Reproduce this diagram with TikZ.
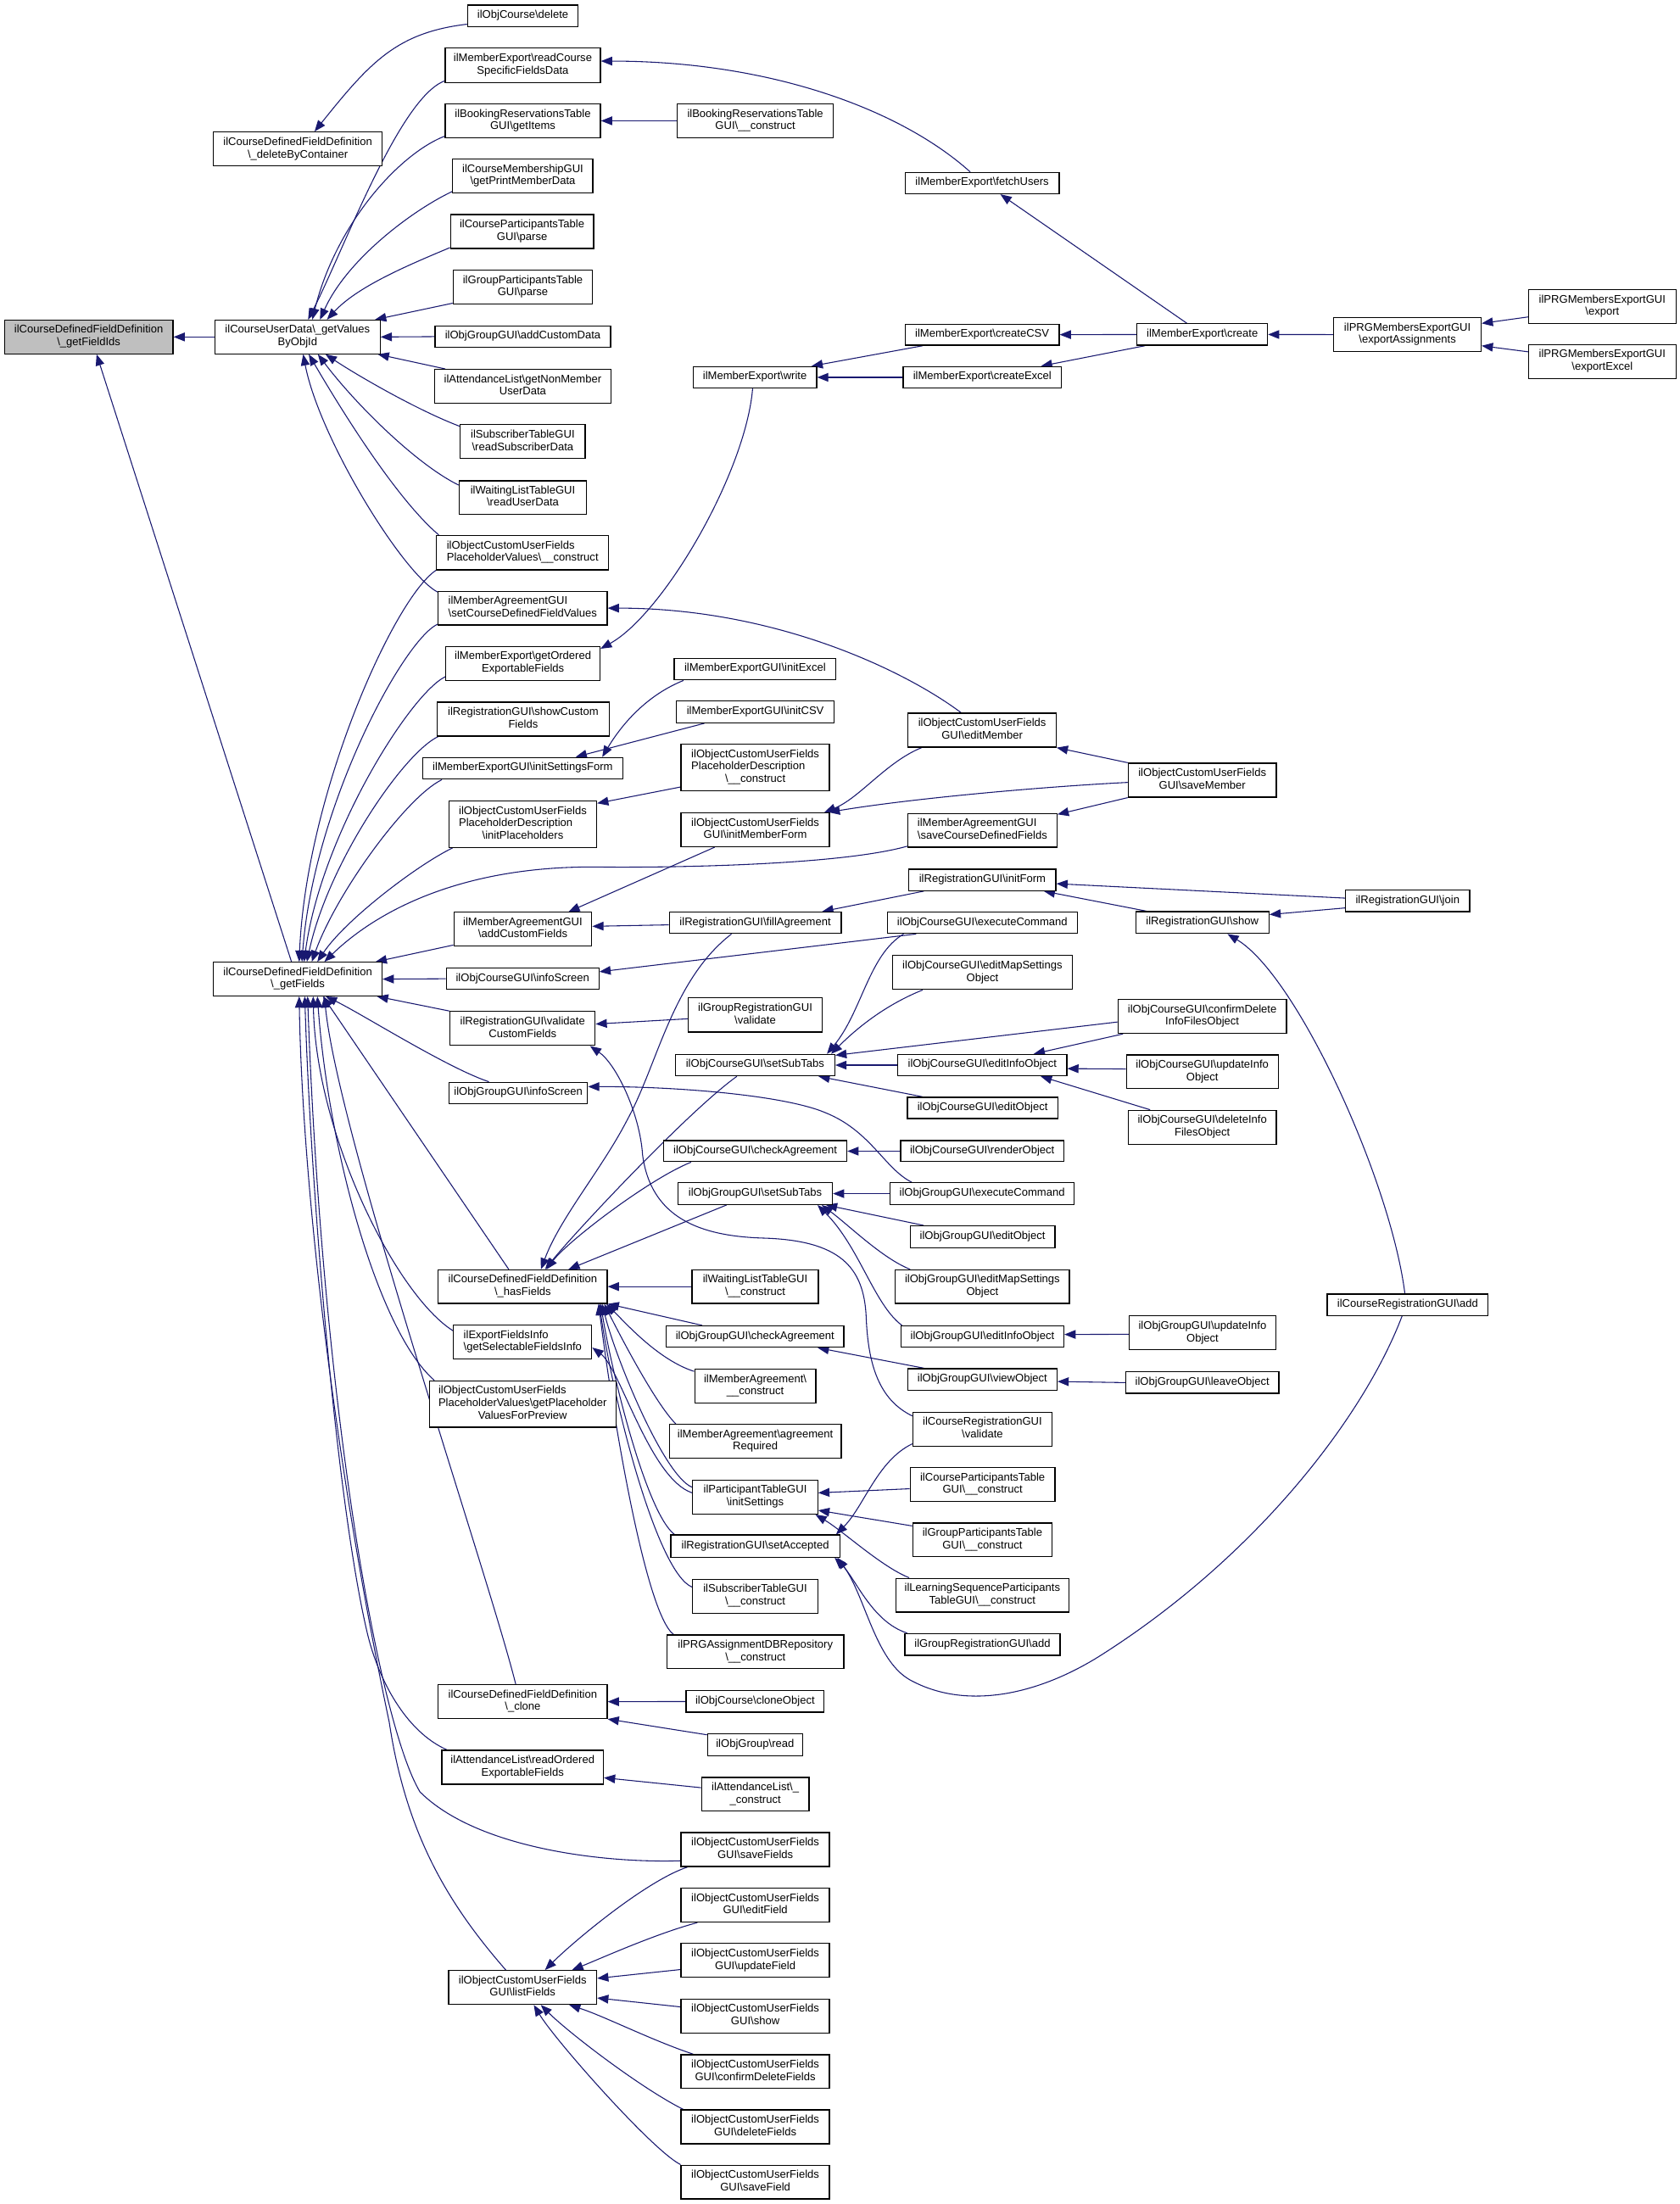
\documentclass[tikz,border=0pt]{standalone}
\usepackage{fontspec}
\setmainfont{Liberation Sans}
\usetikzlibrary{arrows.meta,backgrounds}
\definecolor{grey75}{RGB}{191,191,191}
\definecolor{mblue}{RGB}{25,25,112}
\newcommand{\bsl}{\textbackslash{}}
\newcommand{\cx}[1]{\begin{tabular}{@{}c@{}}#1\end{tabular}}
\newcommand{\lx}[1]{\begin{tabular}{@{}l@{}}#1\end{tabular}}
\newcommand{\mc}[1]{\multicolumn{1}{@{}c@{}}{#1}}
\newcommand{\nd}[6]{\node[nbox,minimum width={(#4)-(#2)},minimum height={(#5)-(#3)}] (#1) at ({((#2)+(#4))/2},{((#3)+(#5))/2}) {#6};}
\begin{document}
\begin{tikzpicture}[x=1pt,y=-1pt,
  nbox/.style={draw=black,line width=0.75pt,fill=white,inner sep=0pt,font=\fontsize{7.9}{8.9}\selectfont,align=center},
  cedge/.style={draw=mblue,line width=0.65pt,-{Triangle[length=8pt,width=6.2pt]}}]
\useasboundingbox (0,0) rectangle (1200,1574.4);
% column 0/1
\node[nbox,fill=grey75,minimum width=120.4,minimum height=24] (fid) at (63.4,240.7) {\cx{ilCourseDefinedFieldDefinition\\\bsl\_getFieldIds}};
\nd{dbc}{152.5}{94.3}{272.9}{118.6}{\cx{ilCourseDefinedFieldDefinition\\\bsl\_deleteByContainer}}
\nd{gvo}{153.6}{228.7}{271.5}{252.7}{\cx{ilCourseUserData\bsl\_getValues\\ByObjId}}
\nd{gfl}{152.5}{687.4}{272.9}{711.4}{\cx{ilCourseDefinedFieldDefinition\\\bsl\_getFields}}
% column 2
\nd{ocd}{334}{3.6}{413}{18.9}{\cx{ilObjCourse\bsl delete}}
\nd{rcs}{318}{34.4}{428.9}{58.9}{\cx{ilMemberExport\bsl readCourse\\SpecificFieldsData}}
\nd{bgi}{318}{74.2}{428.9}{98.4}{\cx{ilBookingReservationsTable\\GUI\bsl getItems}}
\nd{pmd}{323.4}{113.7}{423.5}{137.9}{\cx{ilCourseMembershipGUI\\\bsl getPrintMemberData}}
\nd{cpp}{321.8}{153.2}{424}{177.5}{\cx{ilCourseParticipantsTable\\GUI\bsl parse}}
\nd{gpp}{323.7}{193}{423.2}{217.2}{\cx{ilGroupParticipantsTable\\GUI\bsl parse}}
\nd{gac}{310.7}{232.8}{436.2}{248.1}{\cx{ilObjGroupGUI\bsl addCustomData}}
\nd{anm}{310.4}{263.9}{436.4}{288.1}{\cx{ilAttendanceList\bsl getNonMember\\UserData}}
\nd{rsd}{328.8}{303.4}{418}{327.6}{\cx{ilSubscriberTableGUI\\\bsl readSubscriberData}}
\nd{rud}{328}{343.4}{418.9}{367.4}{\cx{ilWaitingListTableGUI\\\bsl readUserData}}
\nd{pvc}{311.8}{382.5}{434.8}{407}{\lx{ilObjectCustomUserFields\\PlaceholderValues\bsl\_\_construct}}
\nd{scv}{312.9}{422.3}{433.7}{446.5}{\lx{ilMemberAgreementGUI\\\bsl setCourseDefinedFieldValues}}
\nd{goe}{318.5}{461.8}{428.6}{486}{\cx{ilMemberExport\bsl getOrdered\\ExportableFields}}
\nd{scf}{312.3}{501.6}{435.1}{525.8}{\cx{ilRegistrationGUI\bsl showCustom\\Fields}}
\nd{isf}{302}{541.1}{444.8}{556.6}{\cx{ilMemberExportGUI\bsl initSettingsForm}}
\nd{ipl}{320.7}{572.2}{426.2}{605.3}{\lx{ilObjectCustomUserFields\\PlaceholderDescription\\\mc{\bsl initPlaceholders}}}
\nd{acf}{324.2}{651.7}{422.7}{675.7}{\cx{ilMemberAgreementGUI\\\bsl addCustomFields}}
\nd{cis}{318.8}{691.5}{427.8}{706.8}{\cx{ilObjCourseGUI\bsl infoScreen}}
\nd{vcf}{321.5}{722.6}{425.1}{746.8}{\cx{ilRegistrationGUI\bsl validate\\CustomFields}}
\nd{gis}{320.7}{773.1}{419.7}{788.4}{\cx{ilObjGroupGUI\bsl infoScreen}}
\nd{hsf}{313.1}{907.1}{433.7}{931}{\cx{ilCourseDefinedFieldDefinition\\\bsl\_hasFields}}
\nd{sfi}{324}{946.6}{422.7}{970.6}{\lx{ilExportFieldsInfo\\\bsl getSelectableFieldsInfo}}
\nd{pvp}{306.6}{986.4}{440}{1019.5}{\lx{ilObjectCustomUserFields\\PlaceholderValues\bsl getPlaceholder\\\mc{ValuesForPreview}}}
\nd{cln}{313.1}{1203.5}{433.7}{1227.6}{\cx{ilCourseDefinedFieldDefinition\\\bsl\_clone}}
\nd{roe}{315.6}{1250.3}{431}{1274.5}{\cx{ilAttendanceList\bsl readOrdered\\ExportableFields}}
\nd{lsf}{320.4}{1407.6}{426.2}{1431.8}{\cx{ilObjectCustomUserFields\\GUI\bsl listFields}}
% column 3
\nd{brc}{483.8}{74.2}{595.2}{98.4}{\cx{ilBookingReservationsTable\\GUI\bsl\_\_construct}}
\nd{wrt}{495.1}{261.9}{583.3}{277.2}{\cx{ilMemberExport\bsl write}}
\nd{iex}{481.6}{470.2}{597.1}{485.7}{\cx{ilMemberExportGUI\bsl initExcel}}
\nd{icv}{483}{500.8}{596}{516.3}{\cx{ilMemberExportGUI\bsl initCSV}}
\nd{pdc}{486.5}{531.6}{592.5}{564.8}{\lx{ilObjectCustomUserFields\\PlaceholderDescription\\\mc{\bsl\_\_construct}}}
\nd{imf}{486.5}{580.6}{592.5}{604.8}{\cx{ilObjectCustomUserFields\\GUI\bsl initMemberForm}}
\nd{fag}{478.1}{651.5}{600.9}{666.8}{\cx{ilRegistrationGUI\bsl fillAgreement}}
\nd{grv}{491.6}{712.9}{587.3}{737.2}{\cx{ilGroupRegistrationGUI\\\bsl validate}}
\nd{cst}{482.4}{753.2}{596.3}{768.5}{\cx{ilObjCourseGUI\bsl setSubTabs}}
\nd{cca}{474}{814.8}{604.9}{829.8}{\cx{ilObjCourseGUI\bsl checkAgreement}}
\nd{gst}{484.3}{844.9}{594.6}{860.4}{\cx{ilObjGroupGUI\bsl setSubTabs}}
\nd{wlc}{494.3}{907.1}{584.6}{931}{\cx{ilWaitingListTableGUI\\\bsl\_\_construct}}
\nd{gca}{475.9}{947.1}{602.7}{962.4}{\cx{ilObjGroupGUI\bsl checkAgreement}}
\nd{mac}{496.2}{978}{582.7}{1002.2}{\cx{ilMemberAgreement\bsl\\\_\_construct}}
\nd{mar}{478.1}{1017.5}{600.9}{1041.7}{\cx{ilMemberAgreement\bsl agreement\\Required}}
\nd{pis}{494.8}{1057.3}{584.1}{1081.5}{\cx{ilParticipantTableGUI\\\bsl initSettings}}
\nd{sac}{479.2}{1096.5}{599.8}{1112.3}{\cx{ilRegistrationGUI\bsl setAccepted}}
\nd{stc}{494.8}{1128.1}{584.1}{1152.4}{\cx{ilSubscriberTableGUI\\\bsl\_\_construct}}
\nd{prg}{476.5}{1167.9}{602.7}{1192}{\cx{ilPRGAssignmentDBRepository\\\bsl\_\_construct}}
\nd{occ}{490}{1207.8}{588.7}{1223.1}{\cx{ilObjCourse\bsl cloneObject}}
\nd{ogr}{505.4}{1238.3}{573.3}{1254.1}{\cx{ilObjGroup\bsl read}}
\nd{alc}{501.1}{1269.7}{577.9}{1293.8}{\cx{ilAttendanceList\bsl\_\\\_construct}}
\nd{svf}{486.5}{1309.1}{592.5}{1333.3}{\cx{ilObjectCustomUserFields\\GUI\bsl saveFields}}
\nd{edf}{486.5}{1348.8}{592.5}{1373}{\cx{ilObjectCustomUserFields\\GUI\bsl editField}}
\nd{upf}{486.5}{1388.3}{592.5}{1412.5}{\cx{ilObjectCustomUserFields\\GUI\bsl updateField}}
\nd{shw}{486.5}{1428}{592.5}{1452.2}{\cx{ilObjectCustomUserFields\\GUI\bsl show}}
\nd{cdf}{486.5}{1467.7}{592.5}{1491.9}{\cx{ilObjectCustomUserFields\\GUI\bsl confirmDeleteFields}}
\nd{dlf}{486.5}{1507.2}{592.5}{1531.4}{\cx{ilObjectCustomUserFields\\GUI\bsl deleteFields}}
\nd{svd}{486.5}{1546.6}{592.5}{1570.8}{\cx{ilObjectCustomUserFields\\GUI\bsl saveField}}
% column 4
\nd{fus}{646.5}{123.2}{756.6}{138.4}{\cx{ilMemberExport\bsl fetchUsers}}
\nd{csv}{646.5}{231.5}{756.6}{246.6}{\cx{ilMemberExport\bsl createCSV}}
\nd{cxl}{645.2}{261.9}{758.2}{277.2}{\cx{ilMemberExport\bsl createExcel}}
\nd{edm}{648.7}{509.5}{754.4}{533.7}{\cx{ilObjectCustomUserFields\\GUI\bsl editMember}}
\nd{scd}{648.4}{581.1}{755}{605.1}{\lx{ilMemberAgreementGUI\\\bsl saveCourseDefinedFields}}
\nd{ifm}{649.3}{620.9}{754.2}{636.2}{\cx{ilRegistrationGUI\bsl initForm}}
\nd{cec}{633.8}{651.5}{769.6}{666.8}{\cx{ilObjCourseGUI\bsl executeCommand}}
\nd{cem}{637.4}{682.6}{766.1}{706.8}{\cx{ilObjCourseGUI\bsl editMapSettings\\Object}}
\nd{cei}{641.4}{753.2}{762}{768.5}{\cx{ilObjCourseGUI\bsl editInfoObject}}
\nd{ceo}{648.2}{783.8}{755.5}{799}{\cx{ilObjCourseGUI\bsl editObject}}
\nd{cro}{643.3}{814.8}{759.9}{829.8}{\cx{ilObjCourseGUI\bsl renderObject}}
\nd{gec}{635.7}{844.9}{767.4}{860.4}{\cx{ilObjGroupGUI\bsl executeCommand}}
\nd{geo}{650.1}{875.7}{753.6}{891.3}{\cx{ilObjGroupGUI\bsl editObject}}
\nd{gem}{639.5}{907.1}{763.9}{931}{\cx{ilObjGroupGUI\bsl editMapSettings\\Object}}
\nd{gei}{643.6}{947.1}{759.9}{962.4}{\cx{ilObjGroupGUI\bsl editInfoObject}}
\nd{gvw}{648.4}{977.7}{755}{993}{\cx{ilObjGroupGUI\bsl viewObject}}
\nd{crv}{652}{1008.8}{751.5}{1033}{\cx{ilCourseRegistrationGUI\\\bsl validate}}
\nd{cpc}{650.1}{1048.3}{753.6}{1072.6}{\cx{ilCourseParticipantsTable\\GUI\bsl\_\_construct}}
\nd{gpc}{652}{1087.9}{751.5}{1112.1}{\cx{ilGroupParticipantsTable\\GUI\bsl\_\_construct}}
\nd{lsp}{639.8}{1127.4}{763.6}{1151.6}{\cx{ilLearningSequenceParticipants\\TableGUI\bsl\_\_construct}}
\nd{gra}{646.3}{1166.9}{757.2}{1182.4}{\cx{ilGroupRegistrationGUI\bsl add}}
% column 5
\nd{crt}{812.2}{231.3}{905.4}{246.6}{\cx{ilMemberExport\bsl create}}
\nd{svm}{805.9}{545.2}{911.7}{569.4}{\cx{ilObjectCustomUserFields\\GUI\bsl saveMember}}
\nd{rsh}{811.2}{651.2}{906.4}{666.8}{\cx{ilRegistrationGUI\bsl show}}
\nd{cdi}{798.5}{713.9}{919}{738.2}{\cx{ilObjCourseGUI\bsl confirmDelete\\InfoFilesObject}}
\nd{cui}{804.6}{753.5}{913}{777.7}{\cx{ilObjCourseGUI\bsl updateInfo\\Object}}
\nd{cdd}{805.9}{793.1}{911.7}{817.3}{\cx{ilObjCourseGUI\bsl deleteInfo\\FilesObject}}
\nd{gui}{806.7}{940}{911.2}{964.2}{\cx{ilObjGroupGUI\bsl updateInfo\\Object}}
\nd{glo}{804.1}{980}{913.5}{995.3}{\cx{ilObjGroupGUI\bsl leaveObject}}
% column 6/7
\nd{exa}{952.7}{226.9}{1058}{251.1}{\cx{ilPRGMembersExportGUI\\\bsl exportAssignments}}
\nd{rjn}{961.1}{635.9}{1049.8}{651.2}{\cx{ilRegistrationGUI\bsl join}}
\nd{cra}{948}{924.4}{1063}{939.7}{\cx{ilCourseRegistrationGUI\bsl add}}
\nd{exp}{1091.9}{207}{1197.1}{231}{\cx{ilPRGMembersExportGUI\\\bsl export}}
\nd{exx}{1091.9}{246.3}{1197.1}{270.3}{\cx{ilPRGMembersExportGUI\\\bsl exportExcel}}

\begin{pgfonlayer}{background}
\fill[white] (0,0) rectangle (1200,1574.4);
\draw[cedge] ([yshift=2pt]ocd.south west) .. controls +(-50,6) and +(40,-50) .. ([xshift=12pt]dbc.north);
\draw[cedge] (gvo.west) -- (fid.east);
\draw[cedge] ([xshift=-4.5pt]gfl.north) -- ([xshift=5.6pt]fid.south);
\draw[cedge] ([yshift=1.5pt]rcs.south west) .. controls (285,70) and (245,180) .. ([xshift=7.5pt]gvo.north);
\draw[cedge] ([yshift=1.5pt]bgi.south west) .. controls (285,110) and (240,160) .. ([xshift=10.5pt]gvo.north);
\draw[cedge] ([yshift=1.5pt]pmd.south west) .. controls (295,150) and (248,185) .. ([xshift=16pt]gvo.north);
\draw[cedge] ([yshift=1pt]cpp.south west) .. controls (290,190) and (255,205) .. ([xshift=21pt]gvo.north);
\draw[cedge] ([yshift=1pt]gpp.south west) -- ([xshift=-4pt]gvo.north east);
\draw[cedge] (gac.west) -- (gvo.east);
\draw[cedge] ([xshift=8pt]anm.north west) -- ([xshift=-2pt]gvo.south east);
\draw[cedge] ([yshift=-1.5pt]rsd.north west) .. controls (298,293) and (255,268) .. ([xshift=20pt]gvo.south);
\draw[cedge] ([yshift=-3.5pt]rud.north west) .. controls (298,332) and (255,290) .. ([xshift=14.5pt]gvo.south);
\draw[cedge] ([xshift=2pt]pvc.north west) .. controls (285,358) and (248,300) .. ([xshift=8pt]gvo.south);
\draw[cedge] ([yshift=-1pt]scv.north west) .. controls (287,409) and (228,312.5) .. ([xshift=4pt]gvo.south);
\draw[cedge] (brc.west) -- (bgi.east);
\draw[cedge] ([xshift=-8.5pt]fus.north) .. controls +(-50,-45) and +(120,0) .. ([yshift=3pt]rcs.east);
\draw[cedge] ([xshift=-11pt]crt.north) -- ([xshift=13pt]fus.south);
\draw[cedge] (crt.west) -- (csv.east);
\draw[cedge] ([xshift=6pt]crt.south west) -- ([xshift=-15pt]cxl.north east);
\draw[cedge] ([xshift=13pt]csv.south west) -- ([xshift=-4pt]wrt.north east);
\draw[cedge] (cxl.west) -- (wrt.east);
\draw[cedge] (exa.west) -- (crt.east);
\draw[cedge] ([yshift=-7.4pt]exp.west) -- ([yshift=8pt]exa.east);
\draw[cedge] ([yshift=7pt]exx.west) -- ([yshift=-8pt]exa.east);
\draw[cedge] ([xshift=-1.6pt]wrt.south) .. controls +(-5,60) and +(45,-25) .. ([yshift=-2pt]goe.north east);
\draw[cedge] ([xshift=-15pt]edm.north) .. controls +(-40,-30) and +(120,0) .. (scv.east);
\draw[cedge] ([xshift=7pt]iex.south west) .. controls +(-25,10) and +(15,-25) .. ([xshift=-15pt]isf.north east);
\draw[cedge] ([xshift=20.5pt]icv.south west) -- ([xshift=-34pt]isf.north east);
\draw[cedge] ([yshift=3pt]pdc.south west) -- ([yshift=-2pt]ipl.north east);
\draw[cedge] (svm.north west) -- (edm.south east);
\draw[cedge] ([yshift=-1.6pt]svm.west) .. controls +(-60,3) and +(60,-10) .. ([xshift=-1pt]imf.north east);
\draw[cedge] (svm.south west) -- ([yshift=-1pt]scd.north east);
\draw[cedge] ([xshift=10pt]edm.south west) .. controls +(-25,10) and +(25,-10) .. ([xshift=-4pt]imf.north east);
\draw[cedge] ([yshift=1pt]scd.south west) .. controls (600,618) and (480,620) .. (424,619.3) .. controls (330,619) and (270,650) .. ([xshift=19pt]gfl.north);
\draw[cedge] ([xshift=-29pt]imf.south) -- ([xshift=-17pt]acf.north east);
\draw[cedge] ([yshift=-1.5pt]fag.west) -- ([yshift=2pt]acf.east);
\draw[cedge] ([xshift=11pt]ifm.south west) -- ([xshift=-14pt]fag.north east);
\draw[cedge] ([yshift=2pt]rjn.west) -- ([yshift=-2.7pt]ifm.east);
\draw[cedge] ([xshift=8pt]rsh.north west) -- ([xshift=-9pt]ifm.south east);
\draw[cedge] ([yshift=3pt]rjn.south west) -- ([yshift=5.7pt]rsh.east);
\draw[cedge] ([xshift=-2pt]cra.north) .. controls +(-10,-80) and +(50,30) .. ([xshift=18pt]rsh.south);
\draw[cedge] ([xshift=21pt]cec.south west) -- ([yshift=5pt]cis.east);
\draw[cedge] ([xshift=12pt]cec.south west) .. controls +(-25,15) and +(25,-30) .. ([xshift=-6pt]cst.north east);
\draw[cedge] ([xshift=22pt]cem.south west) .. controls +(-25,10) and +(20,-20) .. ([xshift=-3pt]cst.north east);
\draw[cedge] ([yshift=-4pt]cdi.west) -- ([yshift=-1pt]cst.north east);
\draw[cedge] (cei.west) -- (cst.east);
\draw[cedge] ([xshift=11pt]ceo.north west) -- ([xshift=-12pt]cst.south east);
\draw[cedge] ([xshift=4pt]cdi.south west) -- ([xshift=-24pt]cei.north east);
\draw[cedge] ([yshift=2pt]cui.west) -- ([yshift=-2.5pt]cei.east);
\draw[cedge] ([xshift=16pt]cdd.north west) -- ([xshift=-19pt]cei.south east);
\draw[cedge] ([yshift=-2.7pt]grv.west) -- ([yshift=3.2pt]vcf.east);
\draw[cedge] ([yshift=-3pt]crv.north west) .. controls (628,1000) and (620,975) .. (618.7,940.5) .. controls (617,905) and (600,886) .. (545,884.4) .. controls (500,883) and (465,870) .. (459,825) .. controls (457,795) and (440,760) .. ([xshift=-4pt]vcf.south east);
\draw[cedge] ([xshift=16pt]gec.north west) .. controls (632,835) and (622,808) .. (590,795) .. controls (560,782) and (480,776) .. ([yshift=4.5pt]gis.east);
\draw[cedge] (cro.west) -- (cca.east);
\draw[cedge] (gec.west) -- (gst.east);
\draw[cedge] ([xshift=10pt]geo.north west) -- ([xshift=-5pt]gst.south east);
\draw[cedge] ([xshift=11pt]gem.north west) .. controls +(-20,-8) and +(20,15) .. ([xshift=-8pt]gst.south east);
\draw[cedge] ([xshift=1pt]gei.north west) .. controls +(-20,-15) and +(30,30) .. ([xshift=-11pt]gst.south east);
\draw[cedge] ([yshift=-1pt]gui.west) -- ([yshift=1.5pt]gei.east);
\draw[cedge] ([xshift=12pt]gvw.north west) -- ([xshift=-19pt]gca.south east);
\draw[cedge] (glo.west) -- ([yshift=-1.5pt]gvw.east);
\draw[cedge] ([yshift=-3pt]cpc.west) -- ([yshift=3pt]pis.east);
\draw[cedge] ([yshift=-2.5pt]gpc.north west) -- ([yshift=3pt]pis.south east);
\draw[cedge] ([xshift=10pt]lsp.north west) .. controls +(-20,-8) and +(20,12) .. ([xshift=-2pt]pis.south east);
\draw[cedge] ([yshift=2pt]crv.south west) .. controls +(-25,12) and +(20,-20) .. ([xshift=-3pt]sac.north east);
\draw[cedge] ([xshift=2pt]gra.north west) .. controls +(-25,-8) and +(15,15) .. ([xshift=-4pt]sac.south east);
\draw[cedge] ([xshift=-4pt]cra.south) .. controls (975,1010) and (900,1110) .. (787,1182) .. controls (742,1210.7) and (690,1222) .. (650,1200) .. controls (625,1186) and (618,1140) .. ([xshift=-2pt]sac.south east);
\draw[cedge] ([xshift=-17pt]fag.south) .. controls (480,700) and (470,760) .. (448,800) .. controls (430,835) and (400,870) .. ([xshift=13pt]hsf.north);
\draw[cedge] ([xshift=-13pt]cst.south) .. controls +(-35,25) and +(20,-25) .. ([xshift=16pt]hsf.north);
\draw[cedge] ([xshift=20pt]cca.south west) .. controls +(-30,12) and +(15,-20) .. ([xshift=17pt]hsf.north);
\draw[cedge] ([xshift=35pt]gst.south west) -- ([xshift=-28pt]hsf.north east);
\draw[cedge] (wlc.west) -- (hsf.east);
\draw[cedge] ([xshift=26pt]gca.north west) -- (hsf.south east);
\draw[cedge] ([yshift=-2pt]mac.north west) .. controls +(-25,-8) and +(15,15) .. ([xshift=-1pt]hsf.south east);
\draw[cedge] ([xshift=5pt]mar.north west) .. controls +(-15,-15) and +(10,20) .. ([xshift=-2.5pt]hsf.south east);
\draw[cedge] ([yshift=7pt]pis.west) .. controls +(-20,-8) and +(10,40) .. ([xshift=-4pt]hsf.south east);
\draw[cedge] ([xshift=3pt]sac.north west) .. controls +(-20,-15) and +(8,50) .. ([xshift=-5pt]hsf.south east);
\draw[cedge] ([yshift=-6pt]stc.north west) .. controls +(-25,-10) and +(10,70) .. ([xshift=-6pt]hsf.south east);
\draw[cedge] ([xshift=5pt]prg.north west) .. controls +(-20,-15) and +(10,80) .. ([xshift=-6.5pt]hsf.south east);
\draw[cedge] ([yshift=3pt]pis.west) .. controls +(-30,-10) and +(20,15) .. ([yshift=-4pt]sfi.east);
\draw[cedge] (pvc.south west) .. controls +(-30,20) and +(5,-120) .. ([xshift=1pt]gfl.north);
\draw[cedge] ([yshift=1pt]scv.south west) .. controls +(-25,12) and +(8,-110) .. ([xshift=3pt]gfl.north);
\draw[cedge] ([yshift=3pt]goe.south west) .. controls +(-25,12) and +(12,-90) .. ([xshift=4.5pt]gfl.north);
\draw[cedge] ([xshift=1pt]scf.south west) .. controls +(-25,12) and +(15,-70) .. ([xshift=6.5pt]gfl.north);
\draw[cedge] ([xshift=14pt]isf.south west) .. controls +(-25,12) and +(18,-50) .. ([xshift=10pt]gfl.north);
\draw[cedge] ([xshift=3pt]ipl.south west) .. controls +(-25,12) and +(20,-30) .. ([xshift=14pt]gfl.north);
\draw[cedge] ([yshift=1pt]acf.south west) -- ([xshift=-5pt]gfl.north east);
\draw[cedge] (cis.west) -- (gfl.east);
\draw[cedge] (vcf.north west) -- ([xshift=-4pt]gfl.south east);
\draw[cedge] ([xshift=-21pt]gis.north) .. controls +(-30,-10) and +(25,12) .. ([xshift=20pt]gfl.south);
\draw[cedge] ([xshift=-10pt]hsf.north) -- ([xshift=18pt]gfl.south);
\draw[cedge] ([yshift=8pt]sfi.west) .. controls +(-40,-25) and +(2,100) .. ([xshift=11pt]gfl.south);
\draw[cedge] ([xshift=4pt]pvp.north west) .. controls +(-40,-35) and +(8,110) .. ([xshift=14pt]gfl.south);
\draw[cedge] ([xshift=-5pt]cln.north) .. controls +(-20,-80) and +(10,100) .. ([xshift=19pt]gfl.south);
\draw[cedge] ([xshift=4pt]roe.north west) .. controls (290,1237) and (270,1200) .. (262,1165) .. controls (240,1070) and (222,850) .. ([xshift=5pt]gfl.south);
\draw[cedge] ([yshift=-8pt]svf.west) .. controls (430,1331) and (340,1320) .. (300,1280) .. controls (270,1230) and (230,1000) .. ([xshift=7pt]gfl.south);
\draw[cedge] ([xshift=-12pt]lsf.north) .. controls (320,1360) and (290,1310) .. (278,1230) .. controls (240,1050) and (216,850) .. ([xshift=1pt]gfl.south);
\draw[cedge] ([xshift=5pt]svf.south west) .. controls +(-30,10) and +(20,-20) .. ([xshift=16pt]lsf.north);
\draw[cedge] ([xshift=12pt]edf.south west) .. controls +(-30,8) and +(20,-8) .. ([xshift=-18pt]lsf.north east);
\draw[cedge] ([yshift=-6.5pt]upf.west) -- ([yshift=6.5pt]lsf.east);
\draw[cedge] ([yshift=6.5pt]shw.west) -- ([yshift=-7.5pt]lsf.east);
\draw[cedge] ([xshift=9pt]cdf.north west) .. controls +(-30,-10) and +(25,8) .. ([xshift=-20pt]lsf.south east);
\draw[cedge] ([xshift=2pt]dlf.north west) .. controls +(-30,-15) and +(20,20) .. ([xshift=13pt]lsf.south);
\draw[cedge] (svd.north west) .. controls +(-20,-10) and +(15,25) .. ([xshift=8pt]lsf.south);
\draw[cedge] (occ.west) -- (cln.east);
\draw[cedge] ([yshift=-1.3pt]ogr.north west) -- (cln.south east);
\draw[cedge] ([yshift=4.75pt]alc.west) -- ([yshift=-7.5pt]roe.east);
\end{pgfonlayer}
\end{tikzpicture}
\end{document}
